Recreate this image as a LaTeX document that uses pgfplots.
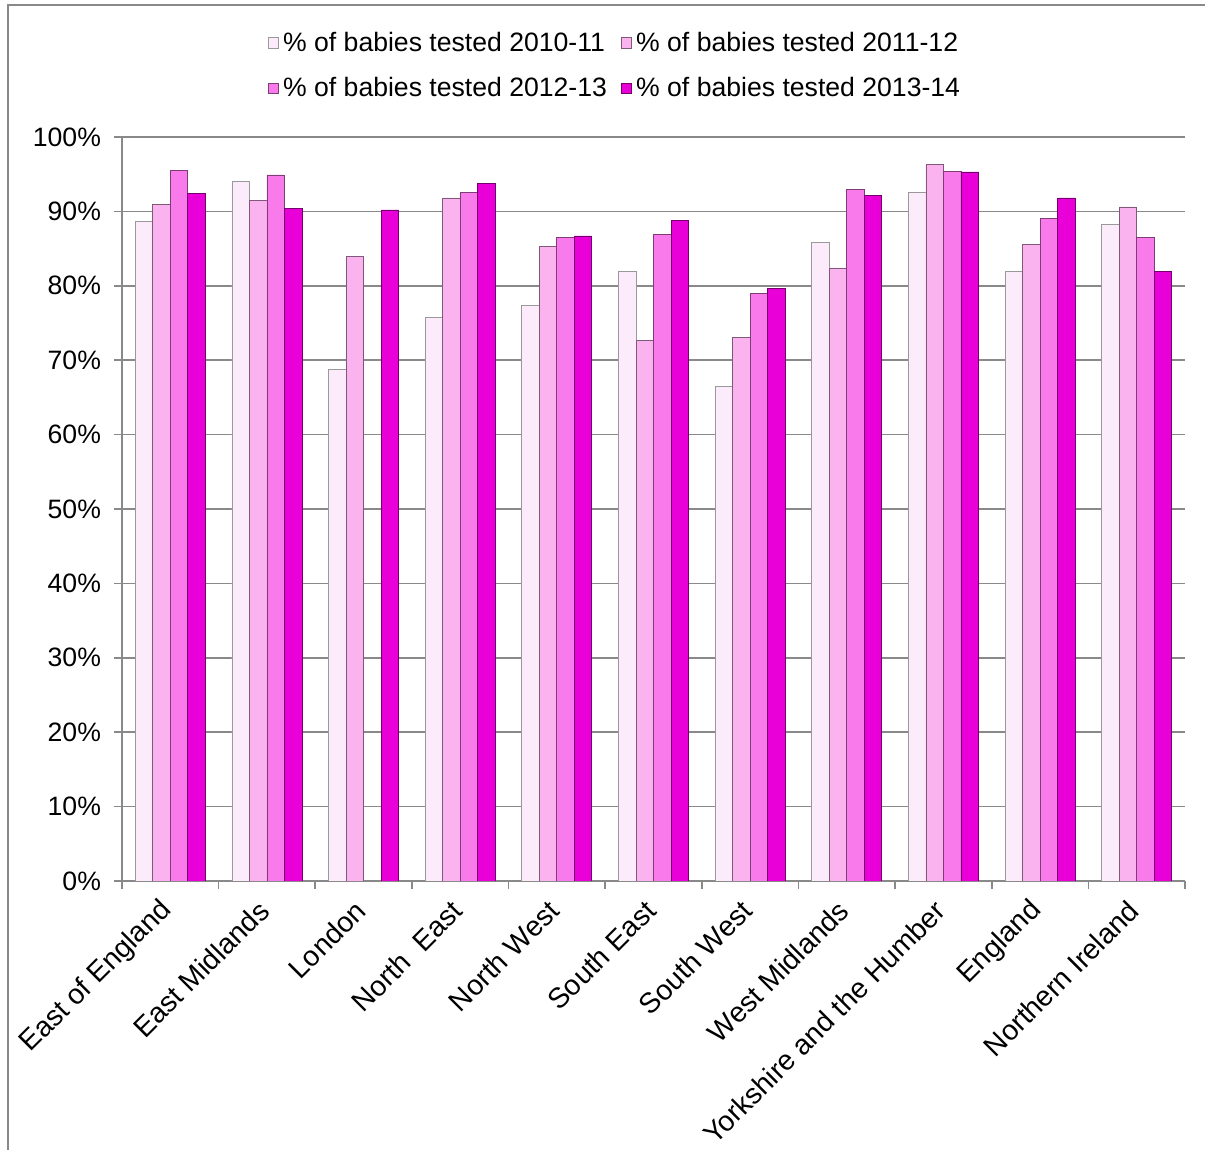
\documentclass[border=0pt]{standalone}
\usepackage{pgfplots}
\pgfplotsset{compat=1.18}
\usepackage{fontspec}
\setmainfont{Liberation Sans}

\definecolor{cA}{HTML}{FCEBFA}
\definecolor{cB}{HTML}{FBB3F0}
\definecolor{cC}{HTML}{F97AEA}
\definecolor{cD}{HTML}{E900D9}
\definecolor{gridgray}{HTML}{898989}

\begin{document}
\begin{tikzpicture}[font=\fontsize{13.3pt}{16pt}\selectfont]
\useasboundingbox (0,0) rectangle (602.5pt,575pt);
% outer frame
\draw[gridgray, line width=1pt] (3.75pt,0) -- (3.75pt,572.5pt) -- (603pt,572.5pt);
\begin{axis}[
  at={(61pt,134.5pt)}, anchor=south west,
  scale only axis, width=531.5pt, height=372pt,
  ybar=0pt, bar width=8.75pt,
  xmin=-0.5, xmax=10.5, ymin=0, ymax=100,
  axis lines*=left,
  axis line style={gridgray, line width=0.8pt},
  tick align=outside,
  major tick length=4pt,
  tick style={gridgray, line width=0.8pt},
  ymajorgrids,
  grid style={gridgray, line width=0.8pt},
  ytick={0,10,...,100},
  yticklabels={0\%,10\%,20\%,30\%,40\%,50\%,60\%,70\%,80\%,90\%,100\%},
  yticklabel style={xshift=-3pt},
  xtick={-0.5,0.5,...,10.5},
  xticklabels={},
  extra x ticks={0,1,...,10},
  extra x tick labels={East of England,East Midlands,London,North\ \ East,North West,South East,South West,West Midlands,Yorkshire and the Humber,England,Northern Ireland},
  extra x tick style={major tick length=0pt, grid=none,
    xticklabel style={font=\fontsize{14.2pt}{17pt}\selectfont,
      xshift=1pt, yshift=-10pt, rotate=45, anchor=east}},
  legend columns=2,
  legend cell align=left,
  legend style={at={(0.4647,1.096)}, anchor=center, draw=none, fill=none,
    row sep=7.5pt, inner sep=0pt,
    /tikz/every even column/.append style={column sep=5pt}},
  lsq/.style={legend image code/.code={\draw[##1] (0pt,-2.6pt) rectangle (5.2pt,2.6pt);}},
]
\addplot[fill=cA, draw=black!40, line width=0.4pt, lsq] coordinates {
  (0,88.6) (1,94.0) (2,68.7) (3,75.8) (4,77.3) (5,81.9)
  (6,66.5) (7,85.8) (8,92.5) (9,81.9) (10,88.2)};
\addplot[fill=cB, draw=cB!50!black, line width=0.4pt, lsq] coordinates {
  (0,90.9) (1,91.5) (2,83.9) (3,91.8) (4,85.3) (5,72.7)
  (6,73.1) (7,82.4) (8,96.3) (9,85.6) (10,90.6)};
\addplot[fill=cC, draw=cC!50!black, line width=0.4pt, lsq] coordinates {
  (0,95.5) (1,94.9) (3,92.5) (4,86.5) (5,86.9)
  (6,79.0) (7,93.0) (8,95.4) (9,89.0) (10,86.5)};
\addplot[fill=cD, draw=cD!50!black, line width=0.4pt, lsq] coordinates {
  (0,92.4) (1,90.4) (2,90.2) (3,93.7) (4,86.7) (5,88.8)
  (6,79.7) (7,92.1) (8,95.3) (9,91.8) (10,81.9)};
\legend{\% of babies tested 2010-11,\% of babies tested 2011-12,\% of babies tested 2012-13,\% of babies tested 2013-14}
\end{axis}
\end{tikzpicture}
\end{document}
